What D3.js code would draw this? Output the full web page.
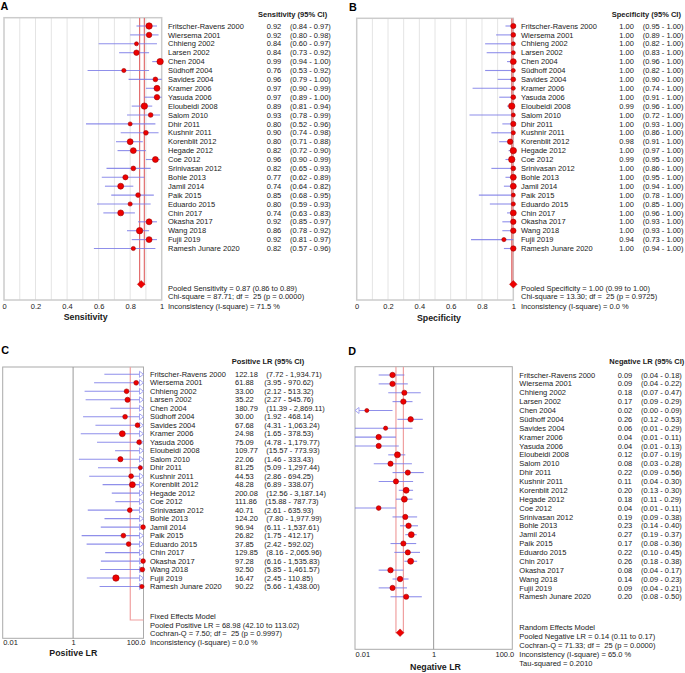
<!DOCTYPE html>
<html><head><meta charset="utf-8">
<script src="https://cdn.jsdelivr.net/npm/d3@7"></script>
<style>
body{margin:0;background:#fff}
text{font-family:"Liberation Sans",Arial,sans-serif;fill:#1a1a1a;white-space:pre}
</style>
</head><body>
<svg id="chart" width="685" height="673"></svg>
<script>
// ---------------- DATA ----------------
const studies = ["Fritscher-Ravens 2000","Wiersema 2001","Chhieng 2002","Larsen 2002","Chen 2004","Südhoff 2004","Savides 2004","Kramer 2006","Yasuda 2006","Eloubeidi 2008","Salom 2010","Dhir 2011","Kushnir 2011","Korenblit 2012","Hegade 2012","Coe 2012","Srinivasan 2012","Bohle 2013","Jamil 2014","Paik 2015","Eduardo 2015","Chin 2017","Okasha 2017","Wang 2018","Fujii 2019","Ramesh Junare 2020"];

const sensEst = [0.92,0.92,0.84,0.84,0.99,0.76,0.96,0.97,0.97,0.89,0.93,0.80,0.90,0.80,0.82,0.96,0.82,0.77,0.74,0.85,0.80,0.74,0.92,0.86,0.92,0.82];
const sensLo  = [0.84,0.80,0.60,0.73,0.94,0.53,0.79,0.90,0.89,0.81,0.78,0.52,0.74,0.71,0.72,0.90,0.65,0.62,0.64,0.68,0.59,0.63,0.85,0.78,0.81,0.57];
const sensHi  = [0.97,0.98,0.97,0.92,1.00,0.92,1.00,0.99,1.00,0.94,0.99,0.96,0.98,0.88,0.90,0.99,0.93,0.89,0.82,0.95,0.93,0.83,0.97,0.92,0.97,0.96];
const sensWeight = [7.3,5.3,2.9,5.3,7.3,3.2,4.0,6.3,5.3,7.3,4.0,2.9,4.0,6.3,6.3,6.3,4.0,4.8,6.3,4.0,3.2,6.3,6.3,7.3,6.3,3.2];
const sensPooled = [0.87,0.86,0.89];
const sensStats = ["Pooled Sensitivity = 0.87 (0.86 to 0.89)","Chi-square = 87.71; df =  25 (p = 0.0000)","Inconsistency (I-square) = 71.5 %"];

const specEst = [1.00,1.00,1.00,1.00,1.00,1.00,1.00,1.00,1.00,0.99,1.00,1.00,1.00,0.98,1.00,0.99,1.00,1.00,1.00,1.00,1.00,1.00,1.00,1.00,0.94,1.00];
const specLo  = [0.95,0.89,0.82,0.83,0.96,0.82,0.90,0.74,0.91,0.96,0.72,0.93,0.86,0.91,0.97,0.95,0.86,0.95,0.94,0.78,0.85,0.96,0.93,0.93,0.73,0.94];
const specHi  = [1.00,1.00,1.00,1.00,1.00,1.00,1.00,1.00,1.00,1.00,1.00,1.00,1.00,1.00,1.00,1.00,1.00,1.00,1.00,1.00,1.00,1.00,1.00,1.00,1.00,1.00];
const specWeight = [4.8,4.0,2.9,2.9,6.3,2.9,4.0,2.9,4.0,7.3,2.9,4.8,3.2,5.3,7.3,7.3,4.0,6.3,6.3,2.9,3.2,6.3,5.3,5.3,3.2,5.3];
const specPooled = [1.00,0.99,1.00];
const specStats = ["Pooled Specificity = 1.00 (0.99 to 1.00)","Chi-square = 13.30; df =  25 (p = 0.9725)","Inconsistency (I-square) = 0.0 %"];

const plrEst = [122.18,61.88,33.00,35.22,180.79,30.00,67.68,24.98,75.09,109.77,22.06,81.25,44.53,48.28,200.08,111.86,40.71,124.20,96.94,26.82,37.85,129.85,97.28,92.50,16.47,90.22];
const plrLo  = [7.72,3.95,2.12,2.27,11.39,1.92,4.31,1.65,4.78,15.57,1.46,5.09,2.86,6.89,12.56,15.88,2.61,7.80,6.11,1.75,2.42,8.16,6.16,5.85,2.45,5.66];
const plrHi  = [1934.71,970.62,513.32,545.76,2869.11,468.14,1063.24,378.53,1179.77,773.93,333.43,1297.44,694.25,338.07,3187.14,787.73,635.93,1977.99,1537.61,412.17,592.02,2065.96,1535.83,1461.57,110.85,1438.00];
const plrWeight = [4.0,4.0,4.0,4.8,4.0,4.0,4.0,6.3,4.0,6.3,4.8,2.9,4.0,6.3,4.0,6.3,4.0,4.0,4.0,4.0,4.0,4.0,4.0,4.0,7.3,3.2];
const plrPooled = [68.98,42.10,113.02];
const plrStats = ["Fixed Effects Model","Pooled Positive LR = 68.98 (42.10 to 113.02)","Cochran-Q = 7.50; df =  25 (p = 0.9997)","Inconsistency (I-square) = 0.0 %"];

const nlrEst = [0.09,0.09,0.18,0.17,0.02,0.26,0.06,0.04,0.04,0.12,0.08,0.22,0.11,0.20,0.18,0.04,0.19,0.23,0.27,0.17,0.22,0.26,0.08,0.14,0.09,0.20];
const nlrLo  = [0.04,0.04,0.07,0.09,0.00,0.12,0.01,0.01,0.01,0.07,0.03,0.09,0.04,0.13,0.11,0.01,0.09,0.14,0.19,0.08,0.10,0.18,0.04,0.09,0.04,0.08];
const nlrHi  = [0.18,0.22,0.47,0.29,0.09,0.53,0.29,0.11,0.13,0.19,0.28,0.56,0.30,0.30,0.29,0.11,0.38,0.40,0.37,0.36,0.45,0.38,0.17,0.23,0.21,0.50];
const nlrWeight = [5.3,5.3,4.8,5.3,2.9,5.3,3.2,5.3,4.8,6.3,4.8,4.8,4.8,6.3,6.3,4.0,4.8,5.3,6.3,4.8,4.8,6.3,5.3,5.3,4.8,4.8];
const nlrPooled = [0.14,0.11,0.17];
const nlrStats = ["Random Effects Model","Pooled Negative LR = 0.14 (0.11 to 0.17)","Cochran-Q = 71.33; df =  25 (p = 0.0000)","Inconsistency (I-square) = 65.0 %","Tau-squared = 0.2010"];

const propTicks = [0,0.2,0.4,0.6,0.8,1];
const propTickLabels = ["0","0.2","0.4","0.6","0.8","1"];
const lrTicks = [0.01,1,100];
const lrTickLabels = ["0.01","1","100.0"];

// ---------------- DRAW ----------------
const svg = d3.select("#chart");
const FS = 7.5;
const rScale = d3.scaleSqrt().domain([0,7.3]).range([0,3.2]);

const panels = [
 {letter:"A",lx:0.5,ly:6.2,est:sensEst,lo:sensLo,hi:sensHi,w:sensWeight,pooled:sensPooled,stats:sensStats,
  header:"Sensitivity (95% CI)",title:"Sensitivity",log:false,ticks:propTicks,tickLabels:propTickLabels,
  x0:4,x1:161.7,y0:17.7,y1:300,rowTop:26,rowStep:8.9,yd:284.3,nameX:168,valX:266.7,ciX:290,headX:258,headY:14,
  statY:[288,296.7,306],tickY:306,titleX:85.7,titleY:317,diamond:true,border:"#cccccc",bw:1.5,pc:"#e36f6f"},
 {letter:"B",lx:349,ly:7,est:specEst,lo:specLo,hi:specHi,w:specWeight,pooled:specPooled,stats:specStats,
  header:"Specificity (95% CI)",title:"Specificity",log:false,ticks:propTicks,tickLabels:propTickLabels,
  x0:356.7,x1:513.3,y0:18.3,y1:300,rowTop:26,rowStep:8.9,yd:284.3,nameX:521,valX:619.3,ciX:642.7,headX:611.7,headY:14,
  statY:[288,296.7,306],tickY:306,titleX:439,titleY:318,diamond:true,border:"#cccccc",bw:1.5,pc:"#e36f6f"},
 {letter:"C",lx:1.2,ly:350,est:plrEst,lo:plrLo,hi:plrHi,w:plrWeight,pooled:plrPooled,stats:plrStats,
  header:"Positive LR (95% CI)",title:"Positive LR",log:true,ticks:lrTicks,tickLabels:lrTickLabels,
  x0:2.7,x1:143.5,y0:367,y1:638.3,rowTop:374.3,rowStep:8.49,yd:620,nameX:150,valX:235,ciX:264.3,headX:231.7,headY:361.7,
  statY:[616.7,625,633.7,642.3],tickY:642.7,titleX:73.3,titleY:653.3,diamond:false,border:"#aaaaaa",bw:1,pc:"#f0a0a0",lrFmt:true},
 {letter:"D",lx:348.3,ly:351.5,est:nlrEst,lo:nlrLo,hi:nlrHi,w:nlrWeight,pooled:nlrPooled,stats:nlrStats,
  header:"Negative LR (95% CI)",title:"Negative LR",log:true,ticks:lrTicks,tickLabels:lrTickLabels,
  x0:355,x1:512.3,y0:366.7,y1:649.3,rowTop:375,rowStep:8.87,yd:632.7,nameX:519.3,valX:617.7,ciX:641,headX:609.3,headY:361.7,
  statY:[627.7,636.7,645.7,654.7,663.3],tickY:654.7,titleX:435.5,titleY:666.7,diamond:true,border:"#aaaaaa",bw:1,pc:"#f0a0a0"}
];

const defs = svg.append("defs");

panels.forEach((p, pi) => {
  const g = svg.append("g");
  const x = p.log ? d3.scaleLog().domain([0.01,100]).range([p.x0,p.x1])
                  : d3.scaleLinear().domain([0,1]).range([p.x0,p.x1]);
  const [dmin, dmax] = x.domain();
  const y = d3.scalePoint().domain(studies).range([p.rowTop, p.rowTop + p.rowStep*(studies.length-1)]);
  const clamp = v => Math.max(dmin, Math.min(dmax, v));

  const clipId = "clip" + pi;
  defs.append("clipPath").attr("id", clipId).append("rect")
    .attr("x", p.x0).attr("y", p.y0).attr("width", p.x1-p.x0).attr("height", p.y1-p.y0);

  g.append("text").attr("x", p.lx).attr("y", p.ly).attr("dy","0.36em")
    .style("font-size","10.8px").style("font-weight","bold").style("fill","#000").text(p.letter);

  if (!p.log) {
    g.selectAll(".grid").data(d3.range(1,10).map(i=>i/10)).join("line")
      .attr("x1", d=>x(d)).attr("x2", d=>x(d)).attr("y1", p.y0).attr("y2", p.y1)
      .attr("stroke","#e4e4e4").attr("stroke-width",1);
  }
  g.append("rect").attr("x",p.x0).attr("y",p.y0).attr("width",p.x1-p.x0).attr("height",p.y1-p.y0)
    .attr("fill","none").attr("stroke",p.border).attr("stroke-width",p.bw);
  if (p.log) {
    g.append("line").attr("x1",x(1)).attr("x2",x(1)).attr("y1",p.y0).attr("y2",p.y1)
      .attr("stroke","#999").attr("stroke-width",1);
  }
  const cg = g.append("g").attr("clip-path", `url(#${clipId})`);
  cg.append("path")
    .attr("d", `M${x(p.pooled[1])},${p.y0} V${p.yd} H${x(p.pooled[2])} V${p.y0}`)
    .attr("fill","none").attr("stroke",p.pc).attr("stroke-width",1.2);

  g.selectAll(".ci").data(studies).join("line")
    .attr("x1",(d,i)=>x(clamp(p.lo[i]))).attr("x2",(d,i)=>x(clamp(p.hi[i])))
    .attr("y1",d=>y(d)).attr("y2",d=>y(d))
    .attr("stroke","#7b7be6").attr("stroke-width",1.1).attr("stroke-opacity",0.85);

  studies.forEach((s,i) => {
    const yy = y(s);
    if (p.hi[i] > dmax) {
      const xt = x(dmax);
      g.append("path").attr("d",`M${xt-4},${yy-3} L${xt},${yy} L${xt-4},${yy+3} Z`)
        .attr("fill","#fff").attr("stroke","#9c9cf0").attr("stroke-width",0.9);
    }
    if (p.lo[i] < dmin) {
      const xt = x(dmin);
      g.append("path").attr("d",`M${xt+4},${yy-3} L${xt},${yy} L${xt+4},${yy+3} Z`)
        .attr("fill","#fff").attr("stroke","#9c9cf0").attr("stroke-width",0.9);
    }
  });

  const vis = studies.map((s,i)=>i).filter(i => p.est[i] >= dmin && p.est[i] <= dmax);
  g.selectAll(".pt").data(vis).join("circle")
    .attr("cx", i=>x(p.est[i])).attr("cy", i=>y(studies[i])).attr("r", i=>rScale(p.w[i]))
    .attr("fill","#ee0000").attr("stroke","#a00000").attr("stroke-width",0.6);

  if (p.diamond) {
    const cx = x(p.pooled[0]), h = 3.8;
    g.append("path").attr("d",`M${cx-h},${p.yd} L${cx},${p.yd-h} L${cx+h},${p.yd} L${cx},${p.yd+h} Z`)
      .attr("fill","#ee0000").attr("stroke","#b00000").attr("stroke-width",0.5);
  }

  const ax = g.append("g").attr("transform",`translate(0,${p.y1})`)
    .call(d3.axisBottom(x).tickValues(p.ticks).tickSize(0).tickFormat((d,i)=>p.tickLabels[i]));
  ax.select(".domain").remove();
  ax.selectAll("text").attr("y", p.tickY - p.y1).attr("dy","0.35em")
    .style("font-size", FS+"px").style("font-family",'"Liberation Sans",Arial,sans-serif').attr("fill","#1a1a1a")
    .attr("text-anchor", (d,i) => p.log ? (i===0 ? "start" : (i===p.ticks.length-1 ? "end" : "middle")) : "middle")
    .attr("x", (d,i) => p.log ? (i===0 ? 0 : (i===p.ticks.length-1 ? 1.5 : 0)) : 0);

  g.append("text").attr("x",p.titleX).attr("y",p.titleY).attr("dy","0.35em").attr("text-anchor","middle")
    .style("font-size","8.8px").style("font-weight","bold").text(p.title);

  g.append("text").attr("x",p.headX).attr("y",p.headY).attr("dy","0.35em")
    .style("font-size",FS+"px").style("font-weight","bold").text(p.header);

  const fmtV = p.lrFmt ? d3.format(",.2f") : d3.format(".2f");
  studies.forEach((s,i) => {
    const yy = y(s);
    g.append("text").attr("x",p.nameX).attr("y",yy).attr("dy","0.35em").style("font-size",FS+"px").text(s);
    const vt = g.append("text").attr("x",p.valX).attr("y",yy).attr("dy","0.35em").style("font-size",FS+"px").text(fmtV(p.est[i]));
    let cx = p.ciX;
    if (p.lrFmt) {
      const w = vt.node().getComputedTextLength();
      cx = Math.max(p.ciX, p.valX + w + 8.4);
    }
    g.append("text").attr("x",cx).attr("y",yy).attr("dy","0.35em").style("font-size",FS+"px")
      .text(`(${fmtV(p.lo[i])} - ${fmtV(p.hi[i])})`);
  });

  p.stats.forEach((t,k) => {
    g.append("text").attr("x",p.nameX).attr("y",p.statY[k]).attr("dy","0.35em").style("font-size",FS+"px").text(t);
  });
});
</script>
</body></html>
